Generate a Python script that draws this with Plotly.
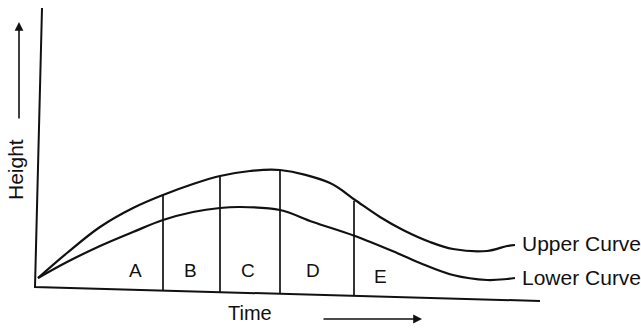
import plotly.graph_objs as go

# time / height values (arbitrary units, origin at the axis corner)
upper_time = [0.2, 3.1, 6.4, 9.7, 12.7, 15.7, 18.4, 21.4, 24.4, 29.4, 31.9, 34.4, 36.7, 39.4, 41.7, 45.1, 47.1, 47.9]
upper_height = [1.0, 3.5, 6.1, 8.0, 9.3, 10.4, 11.2, 11.7, 11.8, 10.5, 8.8, 7.1, 5.8, 4.6, 3.9, 3.7, 4.2, 4.3]

lower_time = [0.2, 3.1, 6.4, 9.7, 12.7, 15.7, 18.4, 20.4, 24.4, 27.7, 31.9, 36.1, 38.4, 41.7, 45.1, 47.1, 47.9]
lower_height = [1.0, 2.6, 4.2, 5.6, 6.8, 7.6, 8.0, 8.1, 7.8, 6.6, 5.2, 3.5, 2.5, 1.3, 0.8, 0.9, 1.0]

# the hand drawn axes (scan is slightly skewed)
axis_time = [0.6, -0.1, 50.4]
axis_height = [28.0, 0.1, -1.3]

# dividers between the zones
divider_time = [12.7, 18.4, 24.4, 31.8]
divider_top = [9.3, 11.2, 11.8, 8.7]
divider_bottom = [-0.2, -0.4, -0.5, -0.8]

zone_labels = ["A", "B", "C", "D", "E"]
zone_time = [9.9, 15.4, 21.2, 27.7, 34.4]
zone_height = [1.8, 1.8, 1.8, 1.8, 1.2]

curve_labels = ["Upper Curve", "Lower Curve"]
curve_label_time = [48.4, 48.4]
curve_label_height = [4.5, 1.1]


def build_figure():
    ink = "#111111"
    font_family = "Arial, Liberation Sans, sans-serif"

    traces = []
    traces.append(go.Scatter(
        x=axis_time, y=axis_height, mode="lines",
        line=dict(color=ink, width=2), hoverinfo="skip"
    ))
    for xs, ys in [(upper_time, upper_height), (lower_time, lower_height)]:
        traces.append(go.Scatter(
            x=xs, y=ys, mode="lines",
            line=dict(color=ink, width=2.2, shape="spline", smoothing=1.0),
            hoverinfo="skip"
        ))
    for t, top, bottom in zip(divider_time, divider_top, divider_bottom):
        traces.append(go.Scatter(
            x=[t, t], y=[top, bottom], mode="lines",
            line=dict(color=ink, width=1.7), hoverinfo="skip"
        ))

    fig = go.Figure(data=traces)

    annotations = []
    for label, t, h in zip(zone_labels, zone_time, zone_height):
        annotations.append(dict(
            x=t, y=h, text=label, showarrow=False,
            font=dict(size=19, color=ink, family=font_family)
        ))
    for label, t, h in zip(curve_labels, curve_label_time, curve_label_height):
        annotations.append(dict(
            x=t, y=h, text=label, showarrow=False, xanchor="left",
            font=dict(size=21, color=ink, family=font_family)
        ))

    # axis titles with their arrows
    annotations.append(dict(
        x=21.4, y=-2.5, text="Time", showarrow=False,
        font=dict(size=20, color=ink, family=font_family)
    ))
    annotations.append(dict(
        x=38.6, y=-3.1, ax=28.6, ay=-3.1, axref="x", ayref="y",
        text="", showarrow=True, arrowhead=2, arrowsize=1.1,
        arrowwidth=1.6, arrowcolor=ink
    ))
    annotations.append(dict(
        x=-2.1, y=11.8, text="Height", showarrow=False, textangle=-90,
        font=dict(size=21, color=ink, family=font_family)
    ))
    annotations.append(dict(
        x=-1.7, y=26.6, ax=-1.7, ay=16.8, axref="x", ayref="y",
        text="", showarrow=True, arrowhead=2, arrowsize=1.1,
        arrowwidth=1.6, arrowcolor=ink
    ))

    fig.update_layout(
        width=641,
        height=328,
        autosize=False,
        margin=dict(l=0, r=0, t=0, b=0),
        plot_bgcolor="white",
        paper_bgcolor="white",
        showlegend=False,
        xaxis=dict(range=[-3.6, 60.5], visible=False, fixedrange=True),
        yaxis=dict(range=[-4.0, 28.8], visible=False, fixedrange=True),
        annotations=annotations,
    )
    return fig


if __name__ == "__main__":
    fig = build_figure()
    # drop the default page margin so the figure fills the window
    fig.write_html(
        "out.html",
        config={"displayModeBar": False},
        post_script="document.body.style.margin='0';document.body.style.overflow='hidden';"
    )
